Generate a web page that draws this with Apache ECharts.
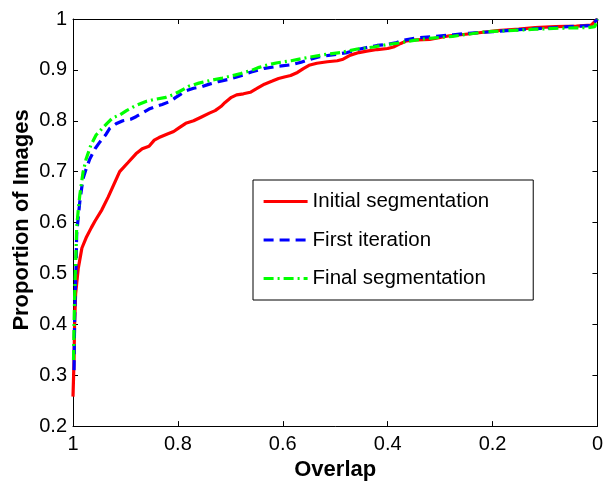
<!DOCTYPE html>
<html>
<head>
<meta charset="utf-8">
<script src="https://cdn.jsdelivr.net/npm/echarts@6/dist/echarts.min.js"></script>
<style>html,body{margin:0;padding:0;background:#fff}#c{width:606px;height:486px}</style>
</head>
<body>
<div id="c"></div>
<script>
var seriesNames = ['Initial segmentation', 'First iteration', 'Final segmentation'];
var xTickLabels = ['0', '0.2', '0.4', '0.6', '0.8', '1'];
var yTickLabels = ['0.2', '0.3', '0.4', '0.5', '0.6', '0.7', '0.8', '0.9', '1'];

var initX = [1.0, 0.998, 0.997, 0.995, 0.990, 0.983, 0.975, 0.965, 0.958, 0.945, 0.933, 0.922, 0.911, 0.895, 0.880, 0.868, 0.855, 0.845, 0.836, 0.820, 0.808, 0.798, 0.785, 0.770, 0.754, 0.740, 0.729, 0.718, 0.710, 0.698, 0.688, 0.675, 0.662, 0.650, 0.635, 0.620, 0.608, 0.597, 0.585, 0.572, 0.560, 0.550, 0.535, 0.515, 0.496, 0.485, 0.471, 0.455, 0.440, 0.420, 0.400, 0.389, 0.375, 0.364, 0.345, 0.320, 0.300, 0.282, 0.260, 0.226, 0.190, 0.150, 0.119, 0.080, 0.040, 0.012, 0.0];
var initY = [0.258, 0.33, 0.40, 0.46, 0.51, 0.55, 0.57, 0.59, 0.603, 0.625, 0.650, 0.675, 0.700, 0.718, 0.735, 0.745, 0.750, 0.762, 0.767, 0.774, 0.779, 0.786, 0.795, 0.800, 0.808, 0.815, 0.820, 0.828, 0.836, 0.846, 0.851, 0.853, 0.856, 0.863, 0.872, 0.878, 0.883, 0.886, 0.889, 0.895, 0.903, 0.909, 0.913, 0.916, 0.918, 0.921, 0.929, 0.934, 0.937, 0.940, 0.942, 0.945, 0.952, 0.957, 0.959, 0.960, 0.964, 0.967, 0.969, 0.973, 0.977, 0.980, 0.983, 0.985, 0.986, 0.988, 1.0];

var firstX = [0.998, 0.997, 0.996, 0.994, 0.993, 0.990, 0.987, 0.981, 0.975, 0.968, 0.958, 0.949, 0.938, 0.930, 0.918, 0.905, 0.890, 0.880, 0.868, 0.855, 0.842, 0.830, 0.815, 0.804, 0.795, 0.785, 0.770, 0.754, 0.740, 0.723, 0.705, 0.691, 0.675, 0.660, 0.635, 0.609, 0.584, 0.565, 0.547, 0.530, 0.502, 0.477, 0.458, 0.440, 0.420, 0.402, 0.385, 0.370, 0.345, 0.308, 0.275, 0.245, 0.200, 0.163, 0.120, 0.080, 0.056, 0.012, 0.0];
var firstY = [0.31, 0.40, 0.45, 0.52, 0.577, 0.61, 0.641, 0.686, 0.705, 0.725, 0.745, 0.758, 0.772, 0.785, 0.794, 0.800, 0.803, 0.808, 0.815, 0.823, 0.828, 0.832, 0.838, 0.846, 0.852, 0.859, 0.864, 0.867, 0.872, 0.877, 0.881, 0.885, 0.890, 0.896, 0.903, 0.907, 0.910, 0.915, 0.921, 0.926, 0.930, 0.934, 0.940, 0.944, 0.948, 0.950, 0.953, 0.958, 0.963, 0.966, 0.969, 0.972, 0.975, 0.978, 0.981, 0.983, 0.985, 0.987, 1.0];

var finalX = [0.999, 0.998, 0.997, 0.996, 0.994, 0.993, 0.990, 0.987, 0.981, 0.975, 0.966, 0.956, 0.946, 0.935, 0.924, 0.910, 0.898, 0.880, 0.861, 0.845, 0.823, 0.810, 0.798, 0.779, 0.760, 0.735, 0.715, 0.698, 0.680, 0.660, 0.645, 0.628, 0.610, 0.584, 0.560, 0.521, 0.490, 0.458, 0.427, 0.400, 0.377, 0.350, 0.320, 0.276, 0.240, 0.213, 0.170, 0.119, 0.070, 0.018, 0.005, 0.0];
var finalY = [0.33, 0.40, 0.45, 0.49, 0.55, 0.59, 0.625, 0.654, 0.698, 0.725, 0.752, 0.772, 0.783, 0.795, 0.806, 0.812, 0.820, 0.830, 0.838, 0.842, 0.846, 0.851, 0.857, 0.868, 0.874, 0.880, 0.884, 0.888, 0.893, 0.899, 0.905, 0.910, 0.914, 0.918, 0.923, 0.930, 0.934, 0.941, 0.945, 0.950, 0.953, 0.958, 0.962, 0.966, 0.971, 0.975, 0.977, 0.980, 0.982, 0.983, 0.985, 1.0];

function pairs(xs, ys) { return xs.map(function (x, i) { return [x, ys[i]]; }); }

var FONT = '"Liberation Sans", Arial, Helvetica, sans-serif';
var chart = echarts.init(document.getElementById('c'), null, { renderer: 'canvas' });

var tickStyle = { show: true, inside: true, length: 5, lineStyle: { color: '#000', width: 1 } };
var lineAx = { show: true, onZero: false, lineStyle: { color: '#000', width: 1 } };
var LW = 3.2;

chart.setOption({
  animation: false,
  backgroundColor: '#fff',
  grid: { left: 73, right: 3, top: 19, bottom: 49, containLabel: false, show: false },
  xAxis: [
    {
      type: 'value', position: 'bottom', min: 0, max: 1, interval: 0.2, inverse: true,
      axisLine: lineAx, axisTick: tickStyle, splitLine: { show: false },
      axisLabel: {
        color: '#000', fontSize: 20, fontFamily: FONT, margin: 8,
        formatter: function (v) { var i = Math.round(v / 0.2); return xTickLabels[i]; }
      },
      name: 'Overlap', nameLocation: 'middle', nameGap: 27,
      nameTextStyle: { color: '#000', fontSize: 22, fontWeight: 'bold', fontFamily: FONT }
    },
    {
      type: 'value', position: 'top', min: 0, max: 1, interval: 0.2, inverse: true,
      axisLine: lineAx, axisTick: tickStyle, splitLine: { show: false }, axisLabel: { show: false }
    }
  ],
  yAxis: [
    {
      type: 'value', position: 'left', min: 0.2, max: 1, interval: 0.1,
      axisLine: lineAx, axisTick: tickStyle, splitLine: { show: false },
      axisLabel: {
        color: '#000', fontSize: 20, fontFamily: FONT, margin: 6,
        formatter: function (v) { var i = Math.round((v - 0.2) / 0.1); return yTickLabels[i]; }
      }
    },
    {
      type: 'value', position: 'right', min: 0.2, max: 1, interval: 0.1,
      axisLine: lineAx, axisTick: tickStyle, splitLine: { show: false }, axisLabel: { show: false }
    }
  ],
  graphic: [
    {
      type: 'text', x: 22, y: 220, rotation: Math.PI / 2,
      style: {
        text: 'Proportion of Images', fill: '#000', font: 'bold 22px ' + FONT,
        textAlign: 'center', textVerticalAlign: 'middle'
      }
    }
  ],
  legend: {
    orient: 'vertical', left: 253, top: 180,
    padding: [11, 44, 11, 9], itemGap: 17.5, itemWidth: 44, itemHeight: 14,
    borderColor: '#000', borderWidth: 1, backgroundColor: '#fff',
    itemStyle: { opacity: 0 },
    lineStyle: { width: LW },
    textStyle: { color: '#000', fontSize: 20.5, fontFamily: FONT, lineHeight: 21 },
    data: seriesNames
  },
  series: [
    {
      name: seriesNames[0], type: 'line', xAxisIndex: 0, yAxisIndex: 0,
      data: pairs(initX, initY), symbol: 'none', showSymbol: false,
      lineStyle: { color: '#ff0000', width: LW, type: 'solid' }, itemStyle: { color: '#ff0000' }
    },
    {
      name: seriesNames[1], type: 'line', xAxisIndex: 0, yAxisIndex: 0,
      data: pairs(firstX, firstY), symbol: 'none', showSymbol: false,
      lineStyle: { color: '#0000ff', width: LW, type: [10, 6] }, itemStyle: { color: '#0000ff' }
    },
    {
      name: seriesNames[2], type: 'line', xAxisIndex: 0, yAxisIndex: 0,
      data: pairs(finalX, finalY), symbol: 'none', showSymbol: false,
      lineStyle: { color: '#00ff00', width: LW, type: [10, 4, 2, 4] }, itemStyle: { color: '#00ff00' }
    }
  ]
});
</script>
</body>
</html>
